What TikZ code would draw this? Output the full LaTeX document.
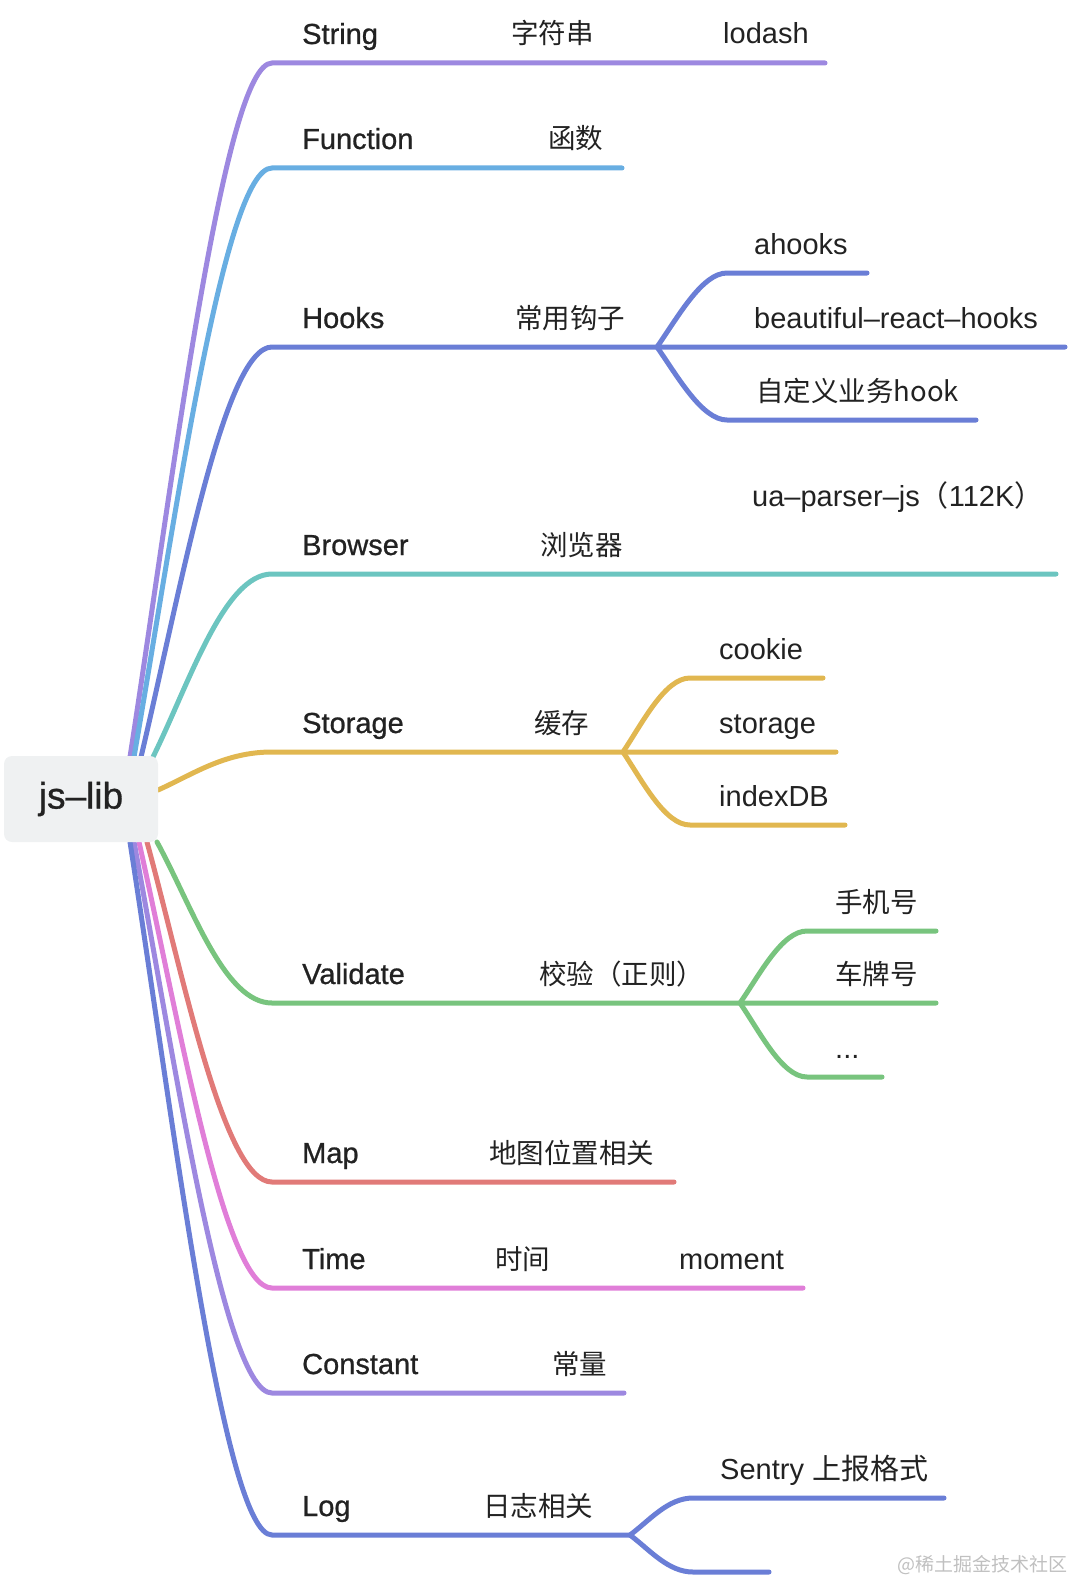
\documentclass[tikz,border=0pt]{standalone}
\usepackage{fontspec}
\setmainfont{Liberation Sans}
\newfontfamily\cjk{Noto Sans CJK SC}
\newfontfamily\semib[FakeBold=0.8]{Liberation Sans}
\usetikzlibrary{positioning, calc, backgrounds}
\definecolor{cText}{RGB}{34,34,34}
\definecolor{cRootBg}{RGB}{239,241,242}
\definecolor{cLilac}{RGB}{157,136,224}
\definecolor{cSky}{RGB}{104,174,226}
\definecolor{cIndigo}{RGB}{106,126,214}
\definecolor{cTeal}{RGB}{108,197,192}
\definecolor{cGold}{RGB}{225,183,80}
\definecolor{cGreen}{RGB}{120,196,126}
\definecolor{cSalmon}{RGB}{225,122,120}
\definecolor{cOrchid}{RGB}{224,126,216}
\definecolor{cMark}{RGB}{192,192,192}
\tikzset{
	root/.style ={rectangle, rounded corners=8pt, fill=cRootBg, minimum width=154pt, minimum height=86pt, text=cText, font=\semib\fontsize{37}{42}\selectfont},
	lbl/.style  ={anchor=base west, inner sep=0pt, text=cText, font=\fontsize{29}{34}\selectfont},
	head/.style ={lbl, font=\semib\fontsize{29}{34}\selectfont},
	zh/.style   ={lbl, font=\cjk\fontsize{27.5}{31}\selectfont},
	br/.style   ={line width=5pt, line cap=round},
	% site mark in the corner
	wmark/.style={anchor=center, inner sep=0pt, text=cMark, font=\cjk\fontsize{19}{22}\selectfont},
}

\begin{document}
\begin{tikzpicture}[x=1pt, y=-1pt]
			\useasboundingbox (0,0) rectangle (1068,1581);
			\node[root] (root) at (81,799) {js–lib};
			% where the branches leave the centre
			\coordinate (sString)   at (130,757);
			\coordinate (sFunction) at (134,757);
			\coordinate (sHooks)    at (141,757);
			\coordinate (sBrowser)  at (153,757);
			\coordinate (sStorage)  at (158,790);
			\coordinate (sValidate) at (157,842);
			\coordinate (sMap)      at (147,842);
			\coordinate (sTime)     at (139,842);
			\coordinate (sConstant) at (134,842);
			\coordinate (sLog)      at (130,842);
			% knees, forks and ends
			\coordinate (kString)   at (272,63);   \coordinate (eString)   at (825,63);
			\coordinate (kFunction) at (272,168);  \coordinate (eFunction) at (622,168);
			\coordinate (kHooks)    at (272,347);  \coordinate (fHooks)    at (657,347);
			\coordinate (kBrowser)  at (272,574);  \coordinate (eBrowser)  at (1056,574);
			\coordinate (kStorage)  at (272,752);  \coordinate (fStorage)  at (623,752);
			\coordinate (kValidate) at (272,1003); \coordinate (fValidate) at (740,1003);
			\coordinate (kMap)      at (272,1182); \coordinate (eMap)      at (674,1182);
			\coordinate (kTime)     at (272,1288); \coordinate (eTime)     at (803,1288);
			\coordinate (kConstant) at (272,1393); \coordinate (eConstant) at (624,1393);
			\coordinate (kLog)      at (272,1535); \coordinate (fLog)      at (630,1535);
			\coordinate (kAhooks) at (727,273); \coordinate (eAhooks) at (867,273);
			\coordinate (eBeautiful) at (1065,347);
			\coordinate (kCustom) at (727,420); \coordinate (eCustom) at (976,420);
			\coordinate (kCookie) at (690,678); \coordinate (eCookie) at (823,678);
			\coordinate (eStore) at (836,752);
			\coordinate (kIndex) at (690,825); \coordinate (eIndex) at (845,825);
			\coordinate (kPhone) at (807,931); \coordinate (ePhone) at (936,931);
			\coordinate (ePlate) at (936,1003);
			\coordinate (kMore) at (807,1077); \coordinate (eMore) at (882,1077);
			\coordinate (kSentry) at (693,1498); \coordinate (eSentry) at (944,1498);
			\coordinate (kLogTwo) at (693,1572); \coordinate (eLogTwo) at (769,1572);
			\begin{scope}[on background layer]
				\draw[br, cLilac]  (sString) .. controls +(43,-278) and +(-48,0) .. (kString) -- (eString);
				\draw[br, cSky]    (sFunction) .. controls +(41,-236) and +(-48,0) .. (kFunction) -- (eFunction);
				\draw[br, cIndigo] (sHooks) .. controls +(39,-164) and +(-48,0) .. (kHooks) -- (fHooks) -- (eBeautiful);
				\draw[br, cIndigo] (fHooks) .. controls +(21,-30) and +(-25,0) .. (kAhooks) -- (eAhooks);
				\draw[br, cIndigo] (fHooks) .. controls +(21,30) and +(-25,0) .. (kCustom) -- (eCustom);
				\draw[br, cTeal]   (sBrowser) .. controls +(36,-73) and +(-48,0) .. (kBrowser) -- (eBrowser);
				\draw[br, cGold]   (sStorage) .. controls +(34,-15) and +(-48,0) .. (kStorage) -- (fStorage) -- (eStore);
				\draw[br, cGold]   (fStorage) .. controls +(20,-30) and +(-25,0) .. (kCookie) -- (eCookie);
				\draw[br, cGold]   (fStorage) .. controls +(20,30) and +(-25,0) .. (kIndex) -- (eIndex);
				\draw[br, cGreen]  (sValidate) .. controls +(35,64) and +(-48,0) .. (kValidate) -- (fValidate) -- (ePlate);
				\draw[br, cGreen]  (fValidate) .. controls +(20,-29) and +(-25,0) .. (kPhone) -- (ePhone);
				\draw[br, cGreen]  (fValidate) .. controls +(20,29) and +(-25,0) .. (kMore) -- (eMore);
				\draw[br, cSalmon] (sMap) .. controls +(37,136) and +(-48,0) .. (kMap) -- (eMap);
				\draw[br, cOrchid] (sTime) .. controls +(40,178) and +(-48,0) .. (kTime) -- (eTime);
				\draw[br, cLilac]  (sConstant) .. controls +(41,220) and +(-48,0) .. (kConstant) -- (eConstant);
				\draw[br, cIndigo] (sLog) .. controls +(43,277) and +(-48,0) .. (kLog) -- (fLog);
				\draw[br, cIndigo] (fLog) .. controls +(20,-15) and +(-25,0) .. (kSentry) -- (eSentry);
				\draw[br, cIndigo] (fLog) .. controls +(20,15) and +(-25,0) .. (kLogTwo) -- (eLogTwo);
			\end{scope}
			% labels
			\node[head] (string) at (302,44) {String};
			\node[zh]  (stringZh) at (511,44) {字符串};
			\node[lbl] (lodash) at (723,44) {lodash};
			\node[head] (function) at (302,149) {Function};
			\node[zh]  (functionZh) at (548,149) {函数};
			\node[head] (hooks) at (302,328) {Hooks};
			\node[zh]  (hooksZh) at (515,328) {常用钩子};
			\node[lbl] (ahooks) at (754,254) {ahooks};
			\node[lbl] (beautiful) at (754,328) {beautiful–react–hooks};
			\node[zh]  (custom) at (756,401) {自定义业务hook};
			\node[head] (browser) at (302,555) {Browser};
			\node[zh]  (browserZh) at (540,555) {浏览器};
			\node[lbl] (uaparser) at (752,506) {ua–parser–js{\cjk （}112K{\cjk ）}};
			\node[head] (storage) at (302,733) {Storage};
			\node[zh]  (storageZh) at (534,733) {缓存};
			\node[lbl] (cookie) at (719,659) {cookie};
			\node[lbl] (store) at (719,733) {storage};
			\node[lbl] (index) at (719,806) {indexDB};
			\node[head] (validate) at (302,984) {Validate};
			\node[zh]  (validateZh) at (539,984) {校验（正则）};
			\node[zh]  (phone) at (835,912) {手机号};
			\node[zh]  (plate) at (835,984) {车牌号};
			\node[lbl] (more) at (835,1058) {...};
			\node[head] (map) at (302,1163) {Map};
			\node[zh]  (mapZh) at (489,1163) {地图位置相关};
			\node[head] (time) at (302,1269) {Time};
			\node[zh]  (timeZh) at (495,1269) {时间};
			\node[lbl] (moment) at (679,1269) {moment};
			\node[head] (constant) at (302,1374) {Constant};
			\node[zh]  (constantZh) at (552,1374) {常量};
			\node[head] (log) at (302,1516) {Log};
			\node[zh]  (logZh) at (483,1516) {日志相关};
			\node[lbl] (sentry) at (720,1479) {Sentry {\cjk 上报格式}};
			\node[wmark] (mark) at (982,1565) {@稀土掘金技术社区};
		\end{tikzpicture}
\end{document}
